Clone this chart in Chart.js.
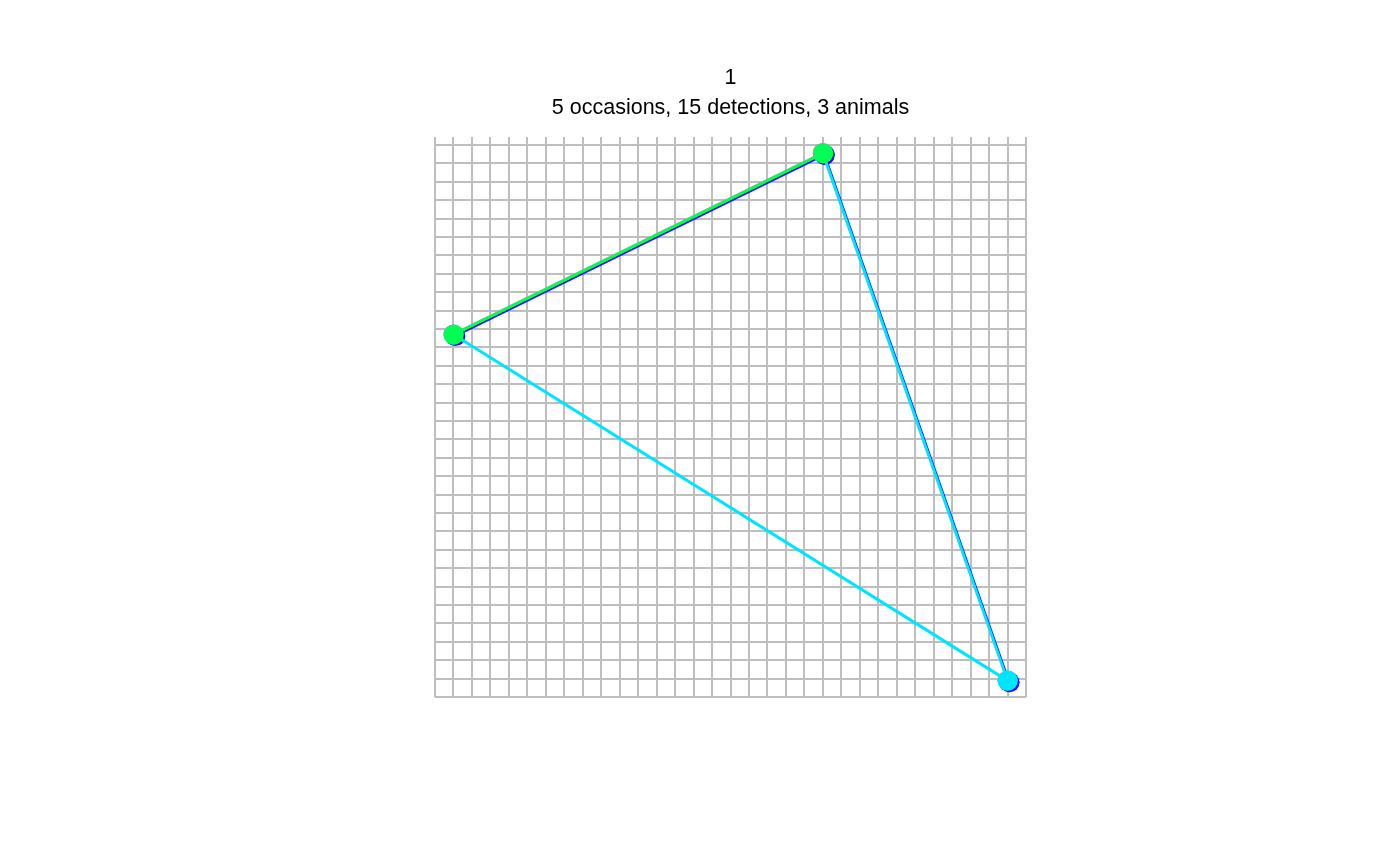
<!DOCTYPE html>
<html>
<head>
<meta charset="utf-8">
<title>1</title>
<script src="https://cdn.jsdelivr.net/npm/chart.js@4.4.0/dist/chart.umd.min.js"></script>
<style>
  html, body { margin: 0; padding: 0; background: #fff; }
  #wrap { width: 1400px; height: 866px; }
</style>
</head>
<body>
<div id="wrap"><canvas id="trackChart" width="1400" height="866"></canvas></div>
<script>
// trap sites where animals were detected (grid units)
const siteNames = ['A', 'B', 'C'];
const siteX = [1, 21, 31];
const siteY = [19.7, 29.55, 0.89];

// animals and the site each one was caught at on occasions 1..5
const animals = ['1', '2', '3'];
const animalColors = ['#00FF55', '#00E5FF', '#2200FF'];
const animalLineWidths = [3, 3, 2];
const tracks = [
  ['A', 'B', 'A', 'B', 'B'],
  ['A', 'C', 'B', 'C', 'C'],
  ['C', 'B', 'A', 'B', 'C']
];

// grid extent
const gridXMax = 32;
const gridYMax = 30.43;

const titleText = '1';
const subtitleText = '5 occasions, 15 detections, 3 animals';

// small shift so overlapping tracks stay visible
const jitter = [[0, 0], [0, 0], [0.1, -0.09]];

function trackPoints(a) {
  return tracks[a].map(s => {
    const i = siteNames.indexOf(s);
    return { x: siteX[i] + jitter[a][0], y: siteY[i] + jitter[a][1] };
  });
}

const datasets = animals.map((name, a) => ({
  label: name,
  data: trackPoints(a),
  showLine: true,
  borderColor: animalColors[a],
  borderWidth: animalLineWidths[a],
  backgroundColor: animalColors[a],
  pointBackgroundColor: animalColors[a],
  pointBorderWidth: 0,
  pointRadius: 10,
  pointHoverRadius: 10
}));

const gridStyle = { color: '#BEBEBE', lineWidth: 2, drawTicks: false };
const font = { family: '"Liberation Sans", Arial, sans-serif', size: 21.5, weight: 'normal' };

new Chart(document.getElementById('trackChart').getContext('2d'), {
  type: 'scatter',
  data: { datasets },
  options: {
    responsive: false,
    animation: false,
    events: [],
    layout: { padding: { left: 435, right: 374, top: 0, bottom: 169 } },
    plugins: {
      legend: { display: false },
      tooltip: { enabled: false },
      title: {
        display: true, text: titleText, color: '#000', font,
        padding: { top: 65, bottom: 0 }
      },
      subtitle: {
        display: true, text: subtitleText, color: '#000', font,
        padding: { top: 4, bottom: 16.4 }
      }
    },
    scales: {
      x: {
        type: 'linear', min: 0, max: gridXMax,
        grid: gridStyle, border: { display: false },
        ticks: { display: false, stepSize: 1, includeBounds: false }
      },
      y: {
        type: 'linear', min: 0, max: gridYMax,
        grid: gridStyle, border: { display: false },
        ticks: { display: false, stepSize: 1, includeBounds: false }
      }
    }
  }
});
</script>
</body>
</html>
